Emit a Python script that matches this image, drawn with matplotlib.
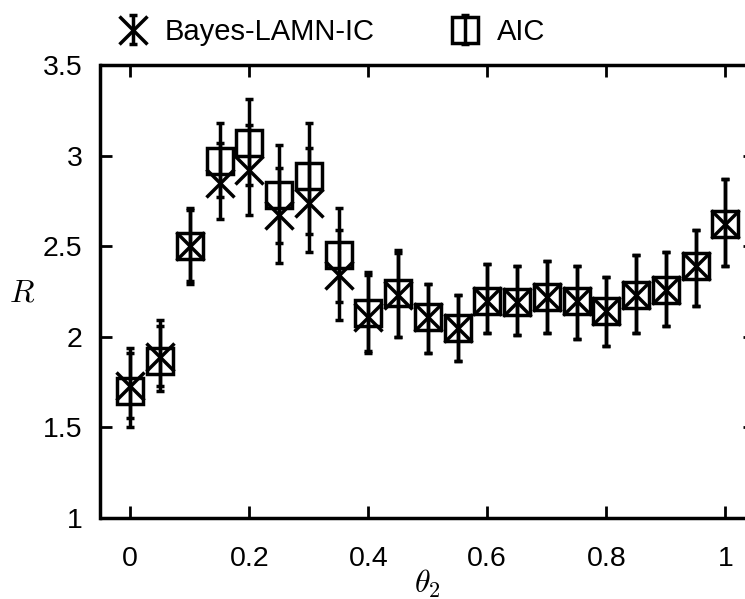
import matplotlib
matplotlib.use("Agg")
import matplotlib.pyplot as plt
import numpy as np

plt.rcParams['font.family'] = ['Liberation Sans', 'DejaVu Sans']
plt.rcParams['mathtext.fontset'] = 'cm'

theta2 = [0.00, 0.05, 0.10, 0.15, 0.20, 0.25, 0.30, 0.35, 0.40, 0.45, 0.50,
          0.55, 0.60, 0.65, 0.70, 0.75, 0.80, 0.85, 0.90, 0.95, 1.00]

bayes_R = [1.73, 1.89, 2.50, 2.85, 2.92, 2.67, 2.74, 2.34, 2.11, 2.23, 2.11,
           2.05, 2.20, 2.19, 2.22, 2.20, 2.14, 2.23, 2.26, 2.39, 2.62]
bayes_lo = [1.55, 1.73, 2.31, 2.65, 2.67, 2.41, 2.47, 2.09, 1.91, 2.00, 1.91,
            1.865, 2.02, 2.01, 2.02, 1.99, 1.95, 2.02, 2.06, 2.17, 2.39]
bayes_hi = [1.94, 2.09, 2.71, 3.07, 3.17, 2.93, 3.04, 2.59, 2.34, 2.46, 2.29,
            2.23, 2.40, 2.39, 2.42, 2.39, 2.33, 2.45, 2.47, 2.59, 2.87]

aic_R = [1.70, 1.865, 2.50, 2.97, 3.07, 2.78, 2.89, 2.45, 2.13, 2.24, 2.11,
         2.05, 2.20, 2.19, 2.22, 2.20, 2.14, 2.23, 2.26, 2.39, 2.62]
aic_lo = [1.50, 1.70, 2.29, 2.77, 2.84, 2.52, 2.57, 2.19, 1.92, 2.00, 1.91,
          1.865, 2.02, 2.01, 2.02, 1.99, 1.95, 2.02, 2.06, 2.17, 2.39]
aic_hi = [1.91, 2.06, 2.70, 3.18, 3.31, 3.06, 3.18, 2.71, 2.36, 2.48, 2.29,
          2.23, 2.40, 2.39, 2.42, 2.39, 2.33, 2.45, 2.47, 2.59, 2.87]

xticks = [0, 0.2, 0.4, 0.6, 0.8, 1.0]
xticklabels = ['0', '0.2', '0.4', '0.6', '0.8', '1']
yticks = [1, 1.5, 2, 2.5, 3, 3.5]
yticklabels = ['1', '1.5', '2', '2.5', '3', '3.5']

W, H = 745, 599
fig = plt.figure(figsize=(W / 100, H / 100), dpi=100)
left_px, right_px, top_px, bot_px = 100.5, 755.0, 65.0, 518.0
ax = fig.add_axes([left_px / W, 1 - bot_px / H,
                   (right_px - left_px) / W, (bot_px - top_px) / H])

def yerr(c, lo, hi):
    c = np.asarray(c); lo = np.asarray(lo); hi = np.asarray(hi)
    return np.vstack([c - lo, hi - c])

lw = 2.5
eb1 = ax.errorbar(theta2, bayes_R, yerr=yerr(bayes_R, bayes_lo, bayes_hi),
                  fmt='x', color='black', markersize=20, markeredgewidth=lw,
                  elinewidth=lw, capsize=3.2, capthick=lw, linestyle='none',
                  label='Bayes-LAMN-IC')
eb2 = ax.errorbar(theta2, aic_R, yerr=yerr(aic_R, aic_lo, aic_hi),
                  fmt='s', color='black', markersize=19, markeredgewidth=lw,
                  markerfacecolor='none', elinewidth=lw, capsize=3.2,
                  capthick=lw, linestyle='none', label='AIC')

ax.set_xlim(-0.05, 1.05)
ax.set_ylim(1, 3.5)
ax.set_xticks(xticks)
ax.set_xticklabels(xticklabels)
ax.set_yticks(yticks)
ax.set_yticklabels(yticklabels)
ax.tick_params(direction='in', length=8.5, width=2.0, labelsize=20.5,
               top=True, right=True)
ax.tick_params(axis='x', pad=20)
ax.tick_params(axis='y', pad=13)
for s in ax.spines.values():
    s.set_linewidth(2.5)

fig.text(22 / W, 1 - 293 / H, r'$R$', fontsize=23, ha='center', va='center')
fig.text(427 / W, 1 - 584 / H, r'$\theta_2$', fontsize=23, ha='center', va='center')

leg = fig.legend(handles=[eb1, eb2], loc='center left',
                 bbox_to_anchor=(118 / W, 1 - 32 / H), ncol=2, frameon=False,
                 fontsize=21, handlelength=1.0, handletextpad=0.6,
                 columnspacing=2.6, borderpad=0, borderaxespad=0)

fig.savefig('out.png', dpi=100)
